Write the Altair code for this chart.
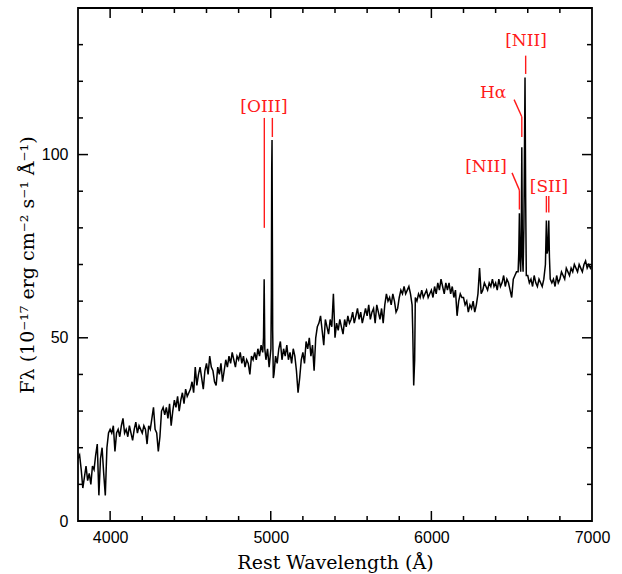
import altair as alt
import pandas as pd

# ---------------- data ----------------
# continuum grid, 10 A steps from 3800 to 7000 (rows of 100 A)
grid_start, grid_stop, grid_step = 3800, 7001, 10
grid_flux = [
    17, 18, 14, 9, 12, 15, 11, 13, 10, 15,      # 3800
    14, 18, 21, 7, 17, 20, 13, 7, 20, 24,       # 3900
    25, 24, 26, 19, 24, 25, 23, 26, 28, 24,     # 4000
    25, 23, 26, 24, 22, 25, 27, 24, 26, 25,     # 4100
    24, 26, 25, 21, 26, 25, 28, 31, 25, 24,     # 4200
    19, 23, 30, 31, 29, 31, 28, 32, 26, 30,     # 4300
    33, 31, 34, 30, 33, 35, 32, 36, 34, 35,     # 4400
    36, 38, 35, 42, 37, 40, 42, 39, 36, 41,     # 4500
    43, 40, 45, 42, 41, 38, 37, 42, 40, 43,     # 4600
    38, 41, 44, 42, 45, 43, 46, 44, 42, 45,     # 4700
    44, 46, 43, 45, 42, 44, 43, 40, 45, 44,     # 4800
    46, 44, 47, 45, 48, 46, 62, 44, 47, 42,     # 4900
    45, 55, 40, 45, 43, 47, 49, 44, 47, 45,     # 5000
    48, 44, 46, 43, 47, 45, 41, 35, 39, 44,     # 5100
    46, 43, 49, 47, 50, 45, 48, 41, 50, 53,     # 5200
    54, 56, 52, 48, 55, 53, 51, 55, 53, 62,     # 5300
    50, 54, 52, 55, 53, 51, 55, 53, 56, 54,     # 5400
    55, 57, 54, 56, 58, 55, 57, 54, 56, 58,     # 5500
    56, 59, 55, 57, 58, 54, 59, 57, 55, 58,     # 5600
    54, 59, 62, 60, 61, 59, 62, 60, 57, 58,     # 5700
    61, 63, 62, 64, 62, 63, 64, 62, 59, 37,     # 5800
    61, 60, 62, 61, 63, 61, 62, 63, 61, 62,     # 5900
    63, 61, 64, 62, 65, 63, 66, 64, 62, 65,     # 6000
    63, 65, 62, 64, 61, 63, 56, 60, 62, 61,     # 6100
    61, 59, 60, 57, 59, 58, 60, 57, 59, 62,     # 6200
    69, 62, 63, 65, 64, 63, 65, 64, 66, 64,     # 6300
    65, 63, 66, 64, 65, 67, 64, 66, 65, 63,     # 6400
    61, 66, 67, 68, 68, 72, 80, 68, 90, 70,     # 6500
    67, 65, 66, 64, 67, 65, 64, 66, 65, 64,     # 6600
    66, 70, 73, 80, 66, 65, 66, 64, 67, 65,     # 6700
    66, 68, 67, 66, 69, 68, 67, 69, 68, 70,     # 6800
    69, 68, 70, 69, 68, 70, 71, 69, 70, 69,     # 6900
    70,                                          # 7000
]

# finely sampled emission / absorption features
line_wl = [4955, 4959, 4963,
           5001, 5004, 5006, 5008, 5012, 5016,
           5884, 5890, 5896,
           6544, 6548, 6552, 6556, 6560, 6563, 6567, 6571, 6576, 6583, 6587, 6591,
           6710, 6716, 6720, 6725, 6731, 6735, 6740]
line_flux = [50, 66, 47,
             47, 62, 96, 104, 52, 39,
             52, 37, 44,
             73, 84, 71, 68, 79, 102, 72, 68, 80, 121, 88, 67,
             70, 82, 73, 74, 82, 72, 66]

# annotation labels (data coordinates)
label_text = ["[OIII]", "[NII]", "Hα", "[NII]", "[SII]"]
label_x = [4958, 6589, 6384, 6340, 6732]
label_y = [113, 131, 116.8, 96.6, 91.2]

# annotation leader lines
ann_x1 = [4960, 5010, 6587, 6515, 6563, 6502, 6548, 6716, 6731]
ann_y1 = [80, 104.8, 122, 115, 110.3, 95, 90.3, 84.2, 84.2]
ann_x2 = [4960, 5010, 6587, 6563, 6563, 6548, 6548, 6716, 6731]
ann_y2 = [110, 110, 127, 110.3, 104.8, 90.3, 85, 88.7, 88.7]

# tick positions
x_major = [4000, 5000, 6000]
x_minor = [4200, 4400, 4600, 4800, 5200, 5400, 5600, 5800, 6200, 6400, 6600, 6800]
y_major = [50, 100]
y_minor = [10, 20, 30, 40, 60, 70, 80, 90, 110, 120, 130]
x_labels = [4000, 5000, 6000, 7000]
y_labels = [0, 50, 100]

# ---------------- build tables ----------------
grid_wl = list(range(grid_start, grid_stop, grid_step))
grid = pd.DataFrame({"wl": grid_wl, "flux": grid_flux})
keep = grid["wl"].apply(lambda w: all(abs(w - lw) >= 4 for lw in line_wl))
lines = pd.DataFrame({"wl": line_wl, "flux": line_flux})
spec = pd.concat([grid[keep], lines]).sort_values("wl").reset_index(drop=True)

labels = pd.DataFrame({"t": label_text, "x": label_x, "y": label_y})
ann = pd.DataFrame({"x1": ann_x1, "y1": ann_y1, "x2": ann_x2, "y2": ann_y2})

W, H = 514, 513
XS = alt.Scale(domain=[3800, 7000], nice=False, zero=False)
YS = alt.Scale(domain=[0, 140], nice=False, zero=False)

serif = "DejaVu Serif"
sans = "Liberation Sans"

XA = alt.Axis(title="Rest Wavelength (Å)", values=x_labels, format="d",
              labelFont=sans, labelFontSize=16, labelColor="black",
              labelPadding=8, labelFlush=False, labelOverlap=False,
              titleFont=serif, titleFontSize=19,
              titleFontWeight="normal", titleColor="black", titlePadding=8,
              ticks=False, tickSize=0, domain=False, grid=False)
YA = alt.Axis(title="Fλ (10⁻¹⁷ erg cm⁻² s⁻¹ Å⁻¹)", values=y_labels, format="d",
              labelFont=sans, labelFontSize=16, labelColor="black",
              labelPadding=10, labelFlush=False, labelOverlap=False,
              titleFont=serif, titleFontSize=19,
              titleFontWeight="normal", titleColor="black", titlePadding=4,
              ticks=False, tickSize=0, domain=False, grid=False)

line = alt.Chart(spec).mark_line(color="black", strokeWidth=1.5, clip=True).encode(
    x=alt.X("wl:Q", scale=XS, axis=XA),
    y=alt.Y("flux:Q", scale=YS, axis=YA),
)

rules = alt.Chart(ann).mark_rule(color="#ff1a1a", strokeWidth=1.4).encode(
    x=alt.X("x1:Q", scale=XS, axis=XA), x2="x2:Q",
    y=alt.Y("y1:Q", scale=YS, axis=YA), y2="y2:Q",
)

texts = alt.Chart(labels).mark_text(color="#ff1a1a", font=serif, fontSize=17,
                                    baseline="middle", align="center").encode(
    x=alt.X("x:Q", scale=XS, axis=XA),
    y=alt.Y("y:Q", scale=YS, axis=YA),
    text="t:N",
)


def xticks(vals, length):
    d = pd.DataFrame({"v": vals})
    bottom = alt.Chart(d).mark_rule(color="black", strokeWidth=1.5).encode(
        x=alt.X("v:Q", scale=XS, axis=XA), y=alt.value(H), y2=alt.value(H - length))
    top = alt.Chart(d).mark_rule(color="black", strokeWidth=1.5).encode(
        x=alt.X("v:Q", scale=XS, axis=XA), y=alt.value(0), y2=alt.value(length))
    return [bottom, top]


def yticks(vals, length):
    d = pd.DataFrame({"v": vals})
    left = alt.Chart(d).mark_rule(color="black", strokeWidth=1.5).encode(
        y=alt.Y("v:Q", scale=YS, axis=YA), x=alt.value(0), x2=alt.value(length))
    right = alt.Chart(d).mark_rule(color="black", strokeWidth=1.5).encode(
        y=alt.Y("v:Q", scale=YS, axis=YA), x=alt.value(W), x2=alt.value(W - length))
    return [left, right]


tick_layers = xticks(x_major, 10) + xticks(x_minor, 5) + yticks(y_major, 10) + yticks(y_minor, 5)

chart = alt.layer(line, rules, texts, *tick_layers).properties(
    width=W, height=H,
    autosize=alt.AutoSizeParams(type="none"),
    padding={"left": 78, "top": 8, "right": 30, "bottom": 53},
    background="white",
).configure_view(stroke="black", strokeWidth=1.8)

chart.save("out.html", embed_options={"renderer": "svg", "actions": False})
